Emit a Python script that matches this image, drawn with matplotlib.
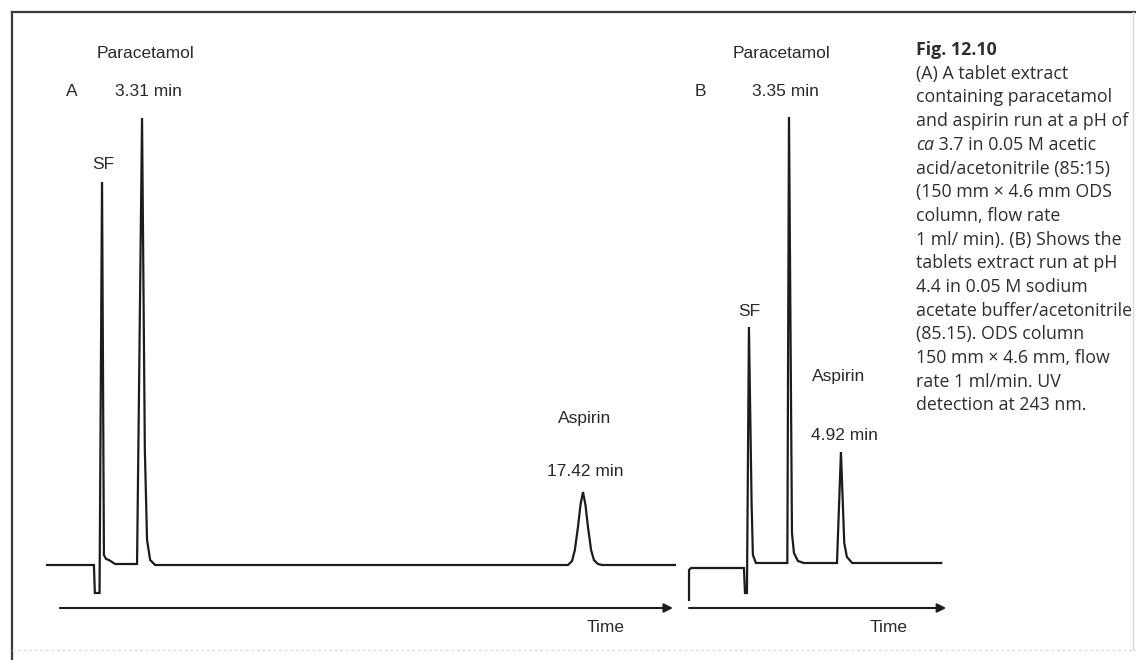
import matplotlib
matplotlib.use("Agg")
import matplotlib.pyplot as plt
from matplotlib.lines import Line2D

# ---------------- data ----------------
# Panel A: retention time (min) and detector signal (arbitrary units, baseline = 0)
a_time = [0.27, 1.77, 1.80, 1.95, 2.03, 2.09, 2.16, 2.25, 2.45, 3.15, 3.21, 3.31, 3.40,
          3.47, 3.57, 3.73, 16.94, 17.07, 17.16, 17.26, 17.34, 17.42, 17.50, 17.58,
          17.68, 17.77, 17.90, 18.03, 20.36]
a_signal = [0, 0, -28, -28, 383, 10, 6, 5, 1, 1, 165, 447, 115,
            25, 5, 0, 0, 4, 15, 38, 60, 73, 60, 38,
            15, 5, 1, 0, 0]

# Panel B
b_time = [0.33, 0.33, 0.39, 1.99, 2.02, 2.08, 2.14, 2.22, 2.26, 2.35, 3.30, 3.35,
          3.44, 3.50, 3.62, 3.80, 4.80, 4.92, 5.02, 5.10, 5.26, 7.95]
b_signal = [-37, -7, -5, -5, -30, -30, 236, 60, 8, 0, 0, 446,
            30, 10, 2, 0, 0, 111, 20, 6, 0, 0]

# time-axis arrows (start, end in min) and level (signal units)
a_arrow = [0.68, 20.30]
b_arrow = [0.33, 8.10]
a_arrow_level = -43
b_arrow_level = -45

# peak annotations
a_labels = ["Paracetamol", "3.31 min", "SF", "Aspirin", "17.42 min"]
b_labels = ["Paracetamol", "3.35 min", "SF", "Aspirin", "4.92 min"]

caption = ["Fig. 12.10",
           "(A) A tablet extract",
           "containing paracetamol",
           "and aspirin run at a pH of",
           "ca| 3.7 in 0.05 M acetic",
           "acid/acetonitrile (85:15)",
           "(150 mm \u00d7 4.6 mm ODS",
           "column, flow rate",
           "1 ml/ min). (B) Shows the",
           "tablets extract run at pH",
           "4.4 in 0.05 M sodium",
           "acetate buffer/acetonitrile",
           "(85.15). ODS column",
           "150 mm \u00d7 4.6 mm, flow",
           "rate 1 ml/min. UV",
           "detection at 243 nm."]

# ---------------- layout ----------------
W, H = 1136, 660
fig = plt.figure(figsize=(W / 100, H / 100), dpi=100)
fig.patch.set_facecolor("white")

def fx(x):
    return x / W

def fy(y):
    return 1 - y / H

INK = "#1c1c1c"
TXT = "#2a2a2a"
LABEL_FONT = dict(family="Liberation Sans", fontsize=12.5, color=TXT)

# panel A axes (pixel calibration)
A_X0, A_PPM, A_BASE = 38.6, 31.25, 565
axA = fig.add_axes([fx(12), 0, fx(680) - fx(12), 1])
axA.set_xlim((12 - A_X0) / A_PPM, (680 - A_X0) / A_PPM)
axA.set_ylim(A_BASE - H, A_BASE)

# panel B axes
B_X0, B_PPM, B_BASE = 678.1, 33.1, 563
axB = fig.add_axes([fx(680), 0, fx(960) - fx(680), 1])
axB.set_xlim((680 - B_X0) / B_PPM, (960 - B_X0) / B_PPM)
axB.set_ylim(B_BASE - H, B_BASE)

for ax in (axA, axB):
    ax.set_axis_off()
    ax.patch.set_alpha(0)

axA.plot(a_time, a_signal, color=INK, lw=1.6, solid_joinstyle="miter", clip_on=False)
axB.plot(b_time, b_signal, color=INK, lw=1.6, solid_joinstyle="miter", clip_on=False)

for ax, (t0, t1), lev in ((axA, a_arrow, a_arrow_level), (axB, b_arrow, b_arrow_level)):
    ax.annotate("", xy=(t1, lev), xytext=(t0, lev),
                arrowprops=dict(arrowstyle="-|>", lw=1.5, color=INK,
                                mutation_scale=13, shrinkA=0, shrinkB=0),
                annotation_clip=False)

# labels (pixel positions)
def label(txt, x, y, ha="center"):
    fig.text(fx(x), fy(y), txt, ha=ha, va="center", **LABEL_FONT)

label(a_labels[0], 146, 53)
label("A", 72, 91)
label(a_labels[1], 148, 91)
label(a_labels[2], 103, 164)
label(a_labels[3], 585, 418)
label(a_labels[4], 585, 472)
label("Time", 606, 628)

label(b_labels[0], 781, 53)
label("B", 700, 91)
label(b_labels[1], 785, 91)
label(b_labels[2], 749, 312)
label(b_labels[3], 839, 376)
label(b_labels[4], 844, 435)
label("Time", 889, 628)

# caption
CAP = dict(family="Open Sans", fontsize=12.8, color="#2e2e2e", va="center", ha="left")
renderer = fig.canvas.get_renderer()
cx, cy0, dy = 916, 50, 23.7
for i, line in enumerate(caption):
    y = cy0 + i * dy
    if i == 0:
        fig.text(fx(cx), fy(y), line, fontweight="bold", **CAP)
    elif "|" in line:
        it, rest = line.split("|")
        t = fig.text(fx(cx), fy(y), it, style="italic", **CAP)
        bb = t.get_window_extent(renderer)
        fig.text(bb.x1 / W, fy(y), rest, **CAP)
    else:
        fig.text(fx(cx), fy(y), line, **CAP)

# frame of the scanned figure
fig.add_artist(Line2D([fx(12), 1], [fy(12), fy(12)], color="#3a3a3a", lw=1.6))
fig.add_artist(Line2D([fx(12), fx(12)], [fy(12), 0], color="#3a3a3a", lw=1.6))
fig.add_artist(Line2D([fx(1133), fx(1133)], [fy(12), fy(650)], color="#d8d8d8", lw=1.0))
fig.add_artist(Line2D([fx(12), 1], [fy(650), fy(650)], color="#dddddd", lw=1.0, ls=(0, (2, 2))))

fig.savefig("out.png", dpi=100, facecolor="white")
